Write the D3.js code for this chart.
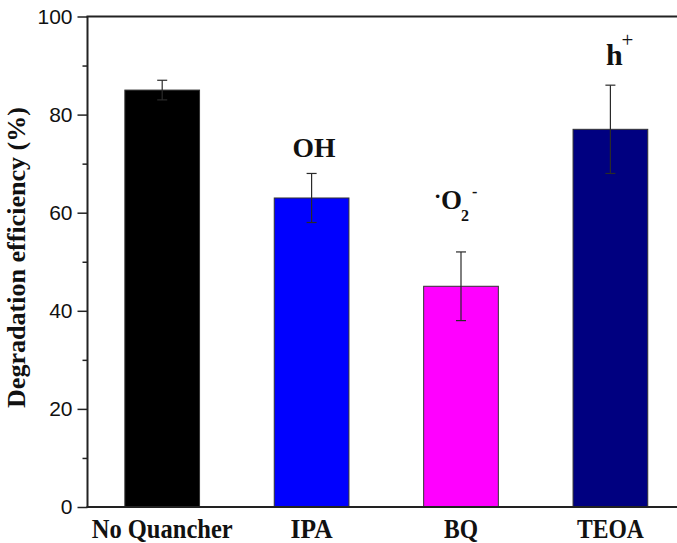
<!DOCTYPE html>
<html>
<head>
<meta charset="utf-8">
<script src="https://cdn.jsdelivr.net/npm/d3@7"></script>
<style>
  html, body { margin: 0; padding: 0; background: #fff; }
  svg { display: block; }
</style>
</head>
<body>
<svg id="chart" width="677" height="543"></svg>
<script>
// ---- data ----
const categories = ["No Quancher", "IPA", "BQ", "TEOA"];
const values = [85, 63, 45, 77];
const errors = [2, 5, 7, 9];
const colors = ["#000000", "#0000ff", "#ff00ff", "#000080"];
const yTicks = [0, 20, 40, 60, 80, 100];
const yMinorTicks = [10, 30, 50, 70, 90];
const labelWidths = [141, 42, 34, 67];
// annotation baseline levels (in % units)
const speciesLevels = [null, 71.3, 60.7, 90.1];

(function () {
const svg = d3.select("#chart");
const W = 677;
const plotLeft = 87.5, plotTop = 16.5, plotBottom = 507;

const y = d3.scaleLinear().domain([0, 100]).range([plotBottom, plotTop]);
const x = d3.scaleBand().domain(categories)
  .range([plotLeft, plotLeft + 597.6]).paddingInner(0.5).paddingOuter(0.25);

const serif = "'Liberation Serif', 'Times New Roman', serif";
const sans = "'Liberation Sans', Arial, sans-serif";

// bars
svg.append("g").selectAll("rect").data(categories).join("rect")
  .attr("x", d => x(d))
  .attr("y", (d, i) => y(values[i]))
  .attr("width", x.bandwidth())
  .attr("height", (d, i) => y(0) - y(values[i]))
  .attr("fill", (d, i) => colors[i])
  .attr("stroke", "#333")
  .attr("stroke-width", 1);

// error bars
const eb = svg.append("g").attr("stroke", "#2a2a2a").attr("stroke-width", 1.2);
categories.forEach((c, i) => {
  const cx = x(c) + x.bandwidth() / 2;
  const y1 = y(values[i] + errors[i]), y2 = y(values[i] - errors[i]);
  eb.append("line").attr("x1", cx).attr("x2", cx).attr("y1", y1).attr("y2", y2);
  eb.append("line").attr("x1", cx - 5).attr("x2", cx + 5).attr("y1", y1).attr("y2", y1);
  eb.append("line").attr("x1", cx - 5).attr("x2", cx + 5).attr("y1", y2).attr("y2", y2);
});

// y axis
const yAxis = d3.axisLeft(y).tickValues(yTicks).tickSize(10).tickPadding(5).tickFormat(d3.format("d"));
const gy = svg.append("g").attr("transform", `translate(${plotLeft},0)`).call(yAxis);
gy.select(".domain").remove();
gy.selectAll(".tick line").attr("stroke", "#222").attr("stroke-width", 1.5);
gy.selectAll(".tick text").attr("font-family", sans).attr("font-size", 21).attr("fill", "#111");
const gyMinor = d3.axisLeft(y).tickValues(yMinorTicks).tickSize(5).tickFormat("");
const gym = svg.append("g").attr("transform", `translate(${plotLeft},0)`).call(gyMinor);
gym.select(".domain").remove();
gym.selectAll(".tick line").attr("stroke", "#222").attr("stroke-width", 1.5);

// frame lines
svg.append("line").attr("x1", plotLeft).attr("x2", plotLeft).attr("y1", plotTop).attr("y2", plotBottom)
  .attr("stroke", "#222").attr("stroke-width", 2);
svg.append("line").attr("x1", plotLeft - 1).attr("x2", W).attr("y1", plotTop).attr("y2", plotTop)
  .attr("stroke", "#222").attr("stroke-width", 2);
svg.append("line").attr("x1", plotLeft - 1).attr("x2", W).attr("y1", plotBottom).attr("y2", plotBottom)
  .attr("stroke", "#222").attr("stroke-width", 2);

// x category labels
svg.append("g").selectAll("text").data(categories).join("text")
  .attr("x", d => x(d) + x.bandwidth() / 2)
  .attr("y", 538)
  .attr("text-anchor", "middle")
  .attr("font-family", serif).attr("font-weight", "bold").attr("font-size", 27)
  .attr("textLength", (d, i) => labelWidths[i])
  .attr("lengthAdjust", "spacingAndGlyphs")
  .attr("fill", "#111")
  .text(d => d);

// y title
svg.append("text")
  .attr("transform", `translate(25,${(107 + 408) / 2}) rotate(-90)`)
  .attr("text-anchor", "middle")
  .attr("font-family", serif).attr("font-weight", "bold").attr("font-size", 25)
  .attr("textLength", 301).attr("lengthAdjust", "spacingAndGlyphs")
  .attr("fill", "#111")
  .text("Degradation efficiency (%)");

// species annotations
const cxOf = i => x(categories[i]) + x.bandwidth() / 2;
// OH
svg.append("text")
  .attr("x", cxOf(1) + 2.5).attr("y", y(speciesLevels[1]))
  .attr("text-anchor", "middle")
  .attr("font-family", serif).attr("font-weight", "bold").attr("font-size", 27)
  .attr("textLength", 43).attr("lengthAdjust", "spacingAndGlyphs")
  .attr("fill", "#111").text("OH");
// ·O2-
const bY = y(speciesLevels[2]);
const o2 = svg.append("text")
  .attr("font-family", serif).attr("font-weight", "bold").attr("fill", "#111");
const ox = cxOf(2) - 20;
o2.append("tspan").attr("x", ox - 7).attr("y", bY - 6).attr("font-size", 22).text("·");
o2.append("tspan").attr("x", ox).attr("y", bY).attr("font-size", 27).text("O");
o2.append("tspan").attr("x", ox + 20).attr("y", bY + 11.5).attr("font-size", 16).text("2");
o2.append("tspan").attr("x", ox + 31).attr("y", bY - 12).attr("font-size", 16).text("-");
// h+
const hY = y(speciesLevels[3]);
const hp = svg.append("text")
  .attr("font-family", serif).attr("font-weight", "bold").attr("fill", "#111");
hp.append("tspan").attr("x", cxOf(3) - 4.5).attr("y", hY).attr("font-size", 30).text("h");
hp.append("tspan").attr("x", cxOf(3) + 11).attr("y", hY - 18.5).attr("font-size", 21)
  .attr("font-weight", "normal").text("+");
})();
</script>
</body>
</html>
